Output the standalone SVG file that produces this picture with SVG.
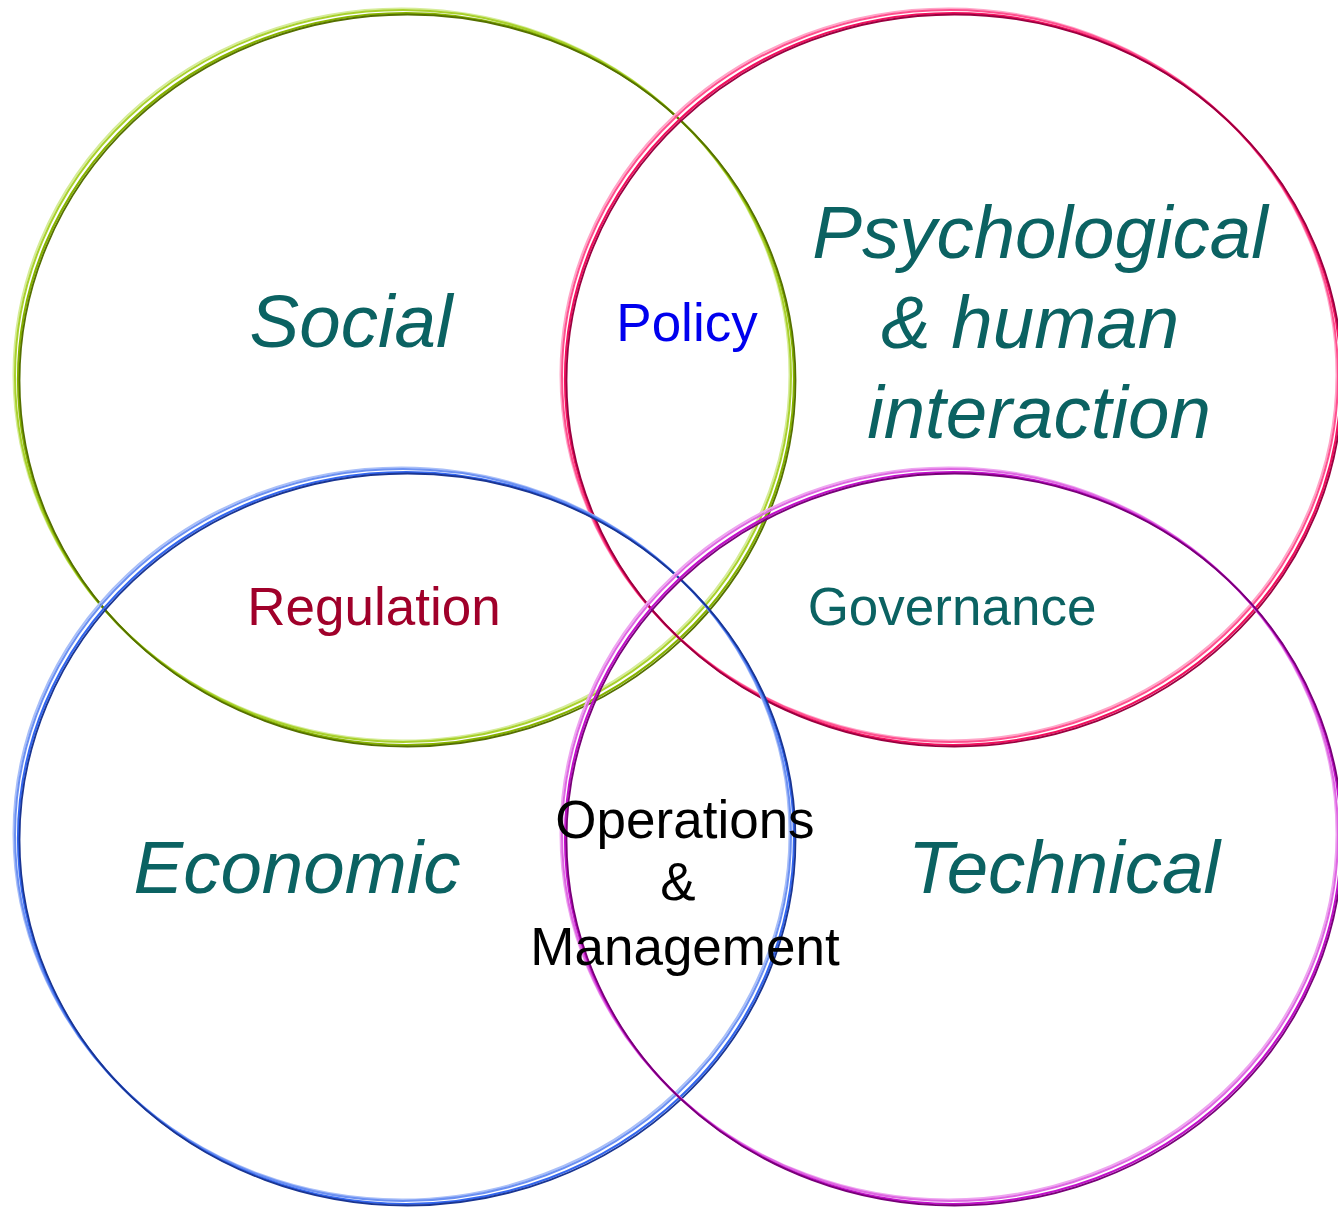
<svg xmlns="http://www.w3.org/2000/svg" width="1338" height="1207" viewBox="0 0 1338 1207">
<style>
.ring{fill:none}
.l{stroke-width:2}
.m{stroke-width:2.2}
.d{stroke-width:1.8}
.big{font-family:"Liberation Sans",Arial,sans-serif;font-style:italic;font-size:74.5px;fill:#0b6262;text-anchor:middle}
.sm{font-family:"Liberation Sans",Arial,sans-serif;font-size:53px;text-anchor:middle}
</style>
<defs>
<ellipse id="e" cx="0" cy="0" rx="388" ry="366"/>
</defs>
<rect width="1338" height="1207" fill="#ffffff"/>
<g id="social" class="ring">
<use href="#e" transform="translate(401.5,374.5)" stroke="#d6ec9a" class="l"/>
<use href="#e" transform="translate(403,376)" stroke="#a9d12c" class="l"/>
<use href="#e" transform="translate(406,379)" stroke="#86b200" class="m"/>
<use href="#e" transform="translate(407.5,380.5)" stroke="#557000" class="d"/>
</g>
<g id="psychological" class="ring">
<use href="#e" transform="translate(948.5,374.5)" stroke="#ffa6c8" class="l"/>
<use href="#e" transform="translate(950,376)" stroke="#ff4f8e" class="l"/>
<use href="#e" transform="translate(953,379)" stroke="#f0105e" class="m"/>
<use href="#e" transform="translate(954.5,380.5)" stroke="#9a0040" class="d"/>
</g>
<g id="economic" class="ring">
<use href="#e" transform="translate(401.5,833.5)" stroke="#a9bff8" class="l"/>
<use href="#e" transform="translate(403,835)" stroke="#6b90f2" class="l"/>
<use href="#e" transform="translate(406,838)" stroke="#3366ee" class="m"/>
<use href="#e" transform="translate(407.5,839.5)" stroke="#1a3592" class="d"/>
</g>
<g id="technical" class="ring">
<use href="#e" transform="translate(948.5,833.5)" stroke="#eea6f0" class="l"/>
<use href="#e" transform="translate(950,835)" stroke="#de66e2" class="l"/>
<use href="#e" transform="translate(953,838)" stroke="#c010c8" class="m"/>
<use href="#e" transform="translate(954.5,839.5)" stroke="#780078" class="d"/>
</g>
<g id="labels">
<text class="big" x="351" y="347">Social</text>
<text class="big" x="1040" y="258">Psychological</text>
<text class="big" x="1030" y="348">&amp; human</text>
<text class="big" x="1039" y="438">interaction</text>
<text class="big" x="297" y="893">Economic</text>
<text class="big" x="1064" y="893">Technical</text>
<text class="sm" x="687" y="341" fill="#0000ee">Policy</text>
<text class="sm" x="374" y="625" fill="#a0002a">Regulation</text>
<text class="sm" x="952" y="625" fill="#0b6262">Governance</text>
<text class="sm" x="685" y="838" fill="#000000">Operations</text>
<text class="sm" x="678" y="900" fill="#000000">&amp;</text>
<text class="sm" x="685" y="965" fill="#000000">Management</text>
</g>
</svg>
